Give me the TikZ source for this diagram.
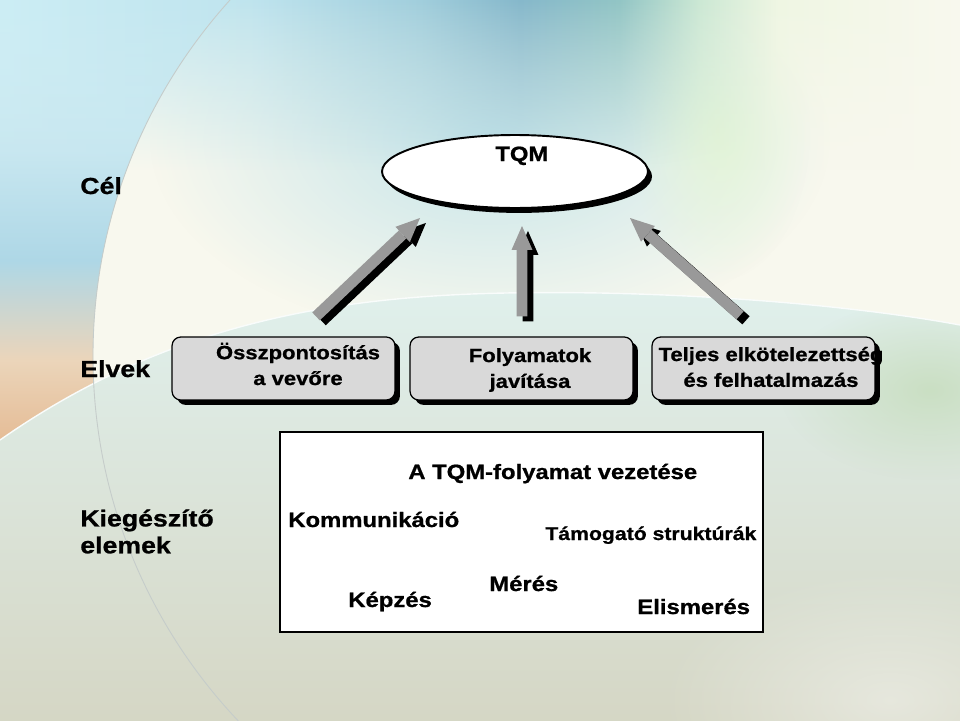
\documentclass[tikz,border=0pt]{standalone}
\usepackage{fontspec}
\setmainfont{Liberation Sans}[FakeStretch=1.15, BoldFeatures={FakeBold=0.9}]
\usetikzlibrary{
  arrows.meta,
  calc,
  fadings,
  shadows,
  shapes.geometric
}

\definecolor{cream}{HTML}{F8F8EE}
\definecolor{tb1}{HTML}{CCEDF4}
\definecolor{tb2}{HTML}{BFE4EE}
\definecolor{tb3}{HTML}{A1CEDC}
\definecolor{tb4}{HTML}{86B8CB}
\definecolor{tb5}{HTML}{92C5C5}
\definecolor{tb6}{HTML}{CCE8D4}
\definecolor{tb7}{HTML}{EFF6E3}
\definecolor{ls1}{HTML}{D4EEF4}
\definecolor{ls2}{HTML}{C8E7F0}
\definecolor{ls3}{HTML}{AED7E6}
\definecolor{ls4}{HTML}{EBD5BA}
\definecolor{ls5}{HTML}{E5BC96}
\definecolor{hilltop}{HTML}{E0F0EC}
\definecolor{hillmid}{HTML}{DCE1D3}
\definecolor{hillbot}{HTML}{D5D6C4}
\definecolor{hillgreen}{HTML}{CADFC3}
\definecolor{cyanglow}{HTML}{C6E5EA}
\definecolor{greenglow}{HTML}{E4F5D8}
\definecolor{circlegrey}{HTML}{C5CCCA}
\definecolor{boxgrey}{HTML}{D9D9D9}
\definecolor{arrowgrey}{HTML}{999999}

\pgfdeclarehorizontalshading{topband}{100bp}{color(0bp)=(tb1); color(25bp)=(tb1);
  color(38bp)=(tb2); color(46.9bp)=(tb3); color(52.1bp)=(tb4); color(57.3bp)=(tb5);
  color(61.5bp)=(tb6); color(65.6bp)=(tb7); color(75bp)=(cream); color(100bp)=(cream)}
\pgfdeclareverticalshading{leftside}{100bp}{color(0bp)=(ls5); color(44.4bp)=(ls5);
  color(50bp)=(ls4); color(56.9bp)=(ls3); color(64.6bp)=(ls2); color(75bp)=(ls1);
  color(100bp)=(ls1)}
\tikzfading[name=fadedown, top color=transparent!0, middle color=transparent!25,
  bottom color=transparent!100]
\tikzfading[name=softcircle, inner color=transparent!0, outer color=transparent!100]

\begin{document}
\begin{tikzpicture}[x=0.02cm, y=-0.02cm,
  rowlabel/.style={font=\fontsize{13.2}{15.3}\selectfont\bfseries,
    align=left, inner sep=0pt},
  goal/.style={ellipse, draw, line width=1.1pt, fill=white,
    minimum width=5.32cm, minimum height=1.46cm, inner sep=0pt,
    drop shadow={fill=black, opacity=1,
      shadow xshift=2.3pt, shadow yshift=-2.8pt}},
  principle/.style={rectangle, rounded corners=5pt, draw, line width=0.7pt,
    fill=boxgrey, minimum width=4.46cm, minimum height=1.26cm,
    drop shadow={fill=black, opacity=1,
      shadow xshift=2.8pt, shadow yshift=-2.8pt}},
  principletext/.style={font=\fontsize{10.9}{14.7}\selectfont\bfseries,
    align=center, inner sep=0pt},
  element/.style={font=\fontsize{11.8}{14}\selectfont\bfseries,
    anchor=base west, inner sep=0pt},
  blockarrow/.style={line width=6.2pt,
    -{Triangle[length=13.6pt, width=11.9pt, line width=0pt]}}
]

  \useasboundingbox (0,0) rectangle (960,720);

  % háttér
  \begin{scope}
    \clip (0,0) rectangle (960,720);
    \fill[cream] (0,0) rectangle (960,720);
    \fill[cyanglow, path fading=softcircle, fit fading=true]
      (490,140) ellipse (340 and 200);
    \fill[greenglow, path fading=softcircle, fit fading=true]
      (720,130) ellipse (90 and 150);
    \begin{scope}[even odd rule]
      \clip (0,0) rectangle (960,720) (624,356) circle (531);
      \shade[shading=leftside] (0,0) rectangle (300,720);
    \end{scope}
    \shade[shading=topband, path fading=fadedown, fit fading=true]
      (0,0) rectangle (960,170);
    % domb
    \shade[top color=hilltop, middle color=hillmid, bottom color=hillbot]
      (0,440) .. controls (200,300) and (400,290) .. (600,293)
      .. controls (750,296) and (880,310) .. (960,325)
      -- (970,730) -- (-10,730) -- cycle;
    \begin{scope}
      \clip (0,440) .. controls (200,300) and (400,290) .. (600,293)
        .. controls (750,296) and (880,310) .. (960,325)
        -- (970,730) -- (-10,730) -- cycle;
      \fill[hillgreen, path fading=softcircle, fit fading=true]
        (930,390) ellipse (150 and 90);
      \fill[white, opacity=0.4, path fading=softcircle, fit fading=true]
        (890,700) ellipse (230 and 130);
    \end{scope}
    \draw[white!80!hilltop, line width=0.8pt]
      (0,440) .. controls (200,300) and (400,290) .. (600,293)
      .. controls (750,296) and (880,310) .. (960,325);
    \draw[circlegrey, line width=0.5pt] (624,356) circle (531);
  \end{scope}

  % szintek
  \node[rowlabel, anchor=base west] (cel) at (80,194) {Cél};
  \node[rowlabel, anchor=base west] (elvek) at (80,377) {Elvek};
  \node[rowlabel, anchor=west] (kieg) at (80,531.5) {Kiegészítő\\elemek};

  % cél
  \node[goal] (tqm) at (515,171.5) {};
  \node[element] (tqmlabel) at (495,161) {TQM};

  % elvek
  \node[principle] (b1) at (283.5,368.5) {};
  \node[principle] (b2) at (521.5,368.5) {};
  \node[principle] (b3) at (763.5,368.5) {};
  \node[principletext] (t1) at (298,364) {Összpontosítás\\a vevőre};
  \node[principletext] (t2) at (530,370) {Folyamatok\\javítása};
  \node[principletext] (t3) at (771,367)
    {Teljes elkötelezettség\\és felhatalmazás};

  % nyilak az elvektől a célig
  \coordinate (a1s) at ($(b1.north)+(32.5,-20)$);
  \coordinate (a2s) at ($(b2.north)+(0.5,-20)$);
  \coordinate (a3s) at ($(b3.north)+(-23.5,-21)$);
  \coordinate (a1e) at ($(tqm.center)+(-95,46.5)$);
  \coordinate (a2e) at ($(tqm.center)+(7,54.5)$);
  \coordinate (a3e) at ($(tqm.center)+(115,46.5)$);
  \foreach \s/\e in {a1s/a1e, a2s/a2e, a3s/a3e} {
    \draw[blockarrow, black, transform canvas={xshift=3.4pt, yshift=-2.8pt}]
      (\s) -- (\e);
    \draw[blockarrow, arrowgrey] (\s) -- (\e);
  }

  % kiegészítő elemek
  \node[draw, line width=0.9pt, fill=white, minimum width=9.66cm,
    minimum height=4cm, inner sep=0pt] (frame) at (521.5,532) {};
  \node[element] (vezetes) at (408,479) {A TQM-folyamat vezetése};
  \node[element] (komm) at (288,527) {Kommunikáció};
  \node[element, font=\fontsize{10.5}{13}\selectfont\bfseries] (tamog)
    at (545,540) {Támogató struktúrák};
  \node[element] (meres) at (489,591) {Mérés};
  \node[element] (kepzes) at (348,607) {Képzés};
  \node[element] (elism) at (637,614) {Elismerés};

\end{tikzpicture}
\end{document}
